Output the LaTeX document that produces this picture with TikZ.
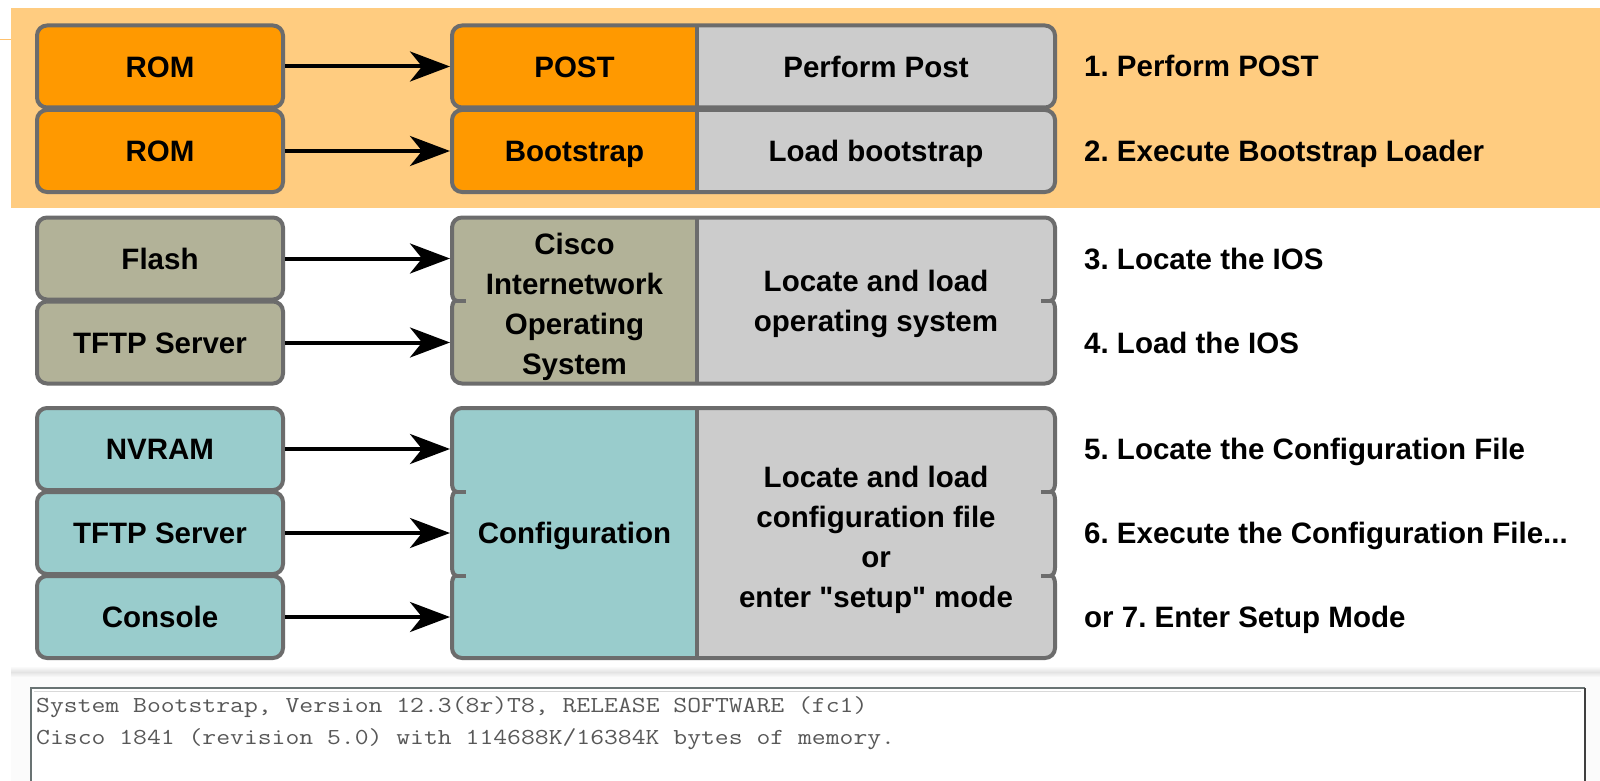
\documentclass[tikz,border=0pt]{standalone}
\usepackage{fontspec}
\setmainfont{Liberation Sans}[Ligatures=TeXOff]
\usetikzlibrary{arrows.meta}
\definecolor{band}{RGB}{255,204,128}
\definecolor{corange}{RGB}{255,153,0}
\definecolor{colive}{RGB}{178,178,152}
\definecolor{cteal}{RGB}{153,204,204}
\definecolor{cgray}{RGB}{204,204,204}
\definecolor{bord}{RGB}{108,108,108}
\definecolor{monotext}{RGB}{88,88,88}
\definecolor{tbord}{RGB}{105,115,115}
\newcommand\lbfont{\fontsize{29.5}{40}\selectfont\bfseries}
\frenchspacing
\begin{document}
\begin{tikzpicture}[x=1pt,y=-1pt,
  lbox/.style={draw=bord, line width=4pt, rounded corners=10pt, minimum width=246pt,
    minimum height=82pt, inner sep=0pt, font=\lbfont, text height=21.1pt, text depth=0pt},
  intext/.style={inner sep=0pt, font=\lbfont, text height=21.1pt, text depth=0pt},
  multitext/.style={inner sep=0pt, anchor=base},
  steplabel/.style={anchor=base west, inner sep=0pt, font=\lbfont},
  bline/.style={draw=bord, line width=4pt},
  con/.style={line width=4pt, -{Stealth[length=40pt,width=30pt,inset=12pt]}}]
\useasboundingbox (0,0) rectangle (1600,781);
\fill[white] (0,0) rectangle (1600,781);
% orange band
\fill[band] (11,8) rectangle (1600,208);
\draw[band!85!orange, line width=1pt] (0,40) -- (11,40);

% ---------- right boxes, group 1 ----------
\begin{scope}
  \clip[rounded corners=10pt] (452,25.5) rectangle (1055,107.5);
  \fill[cgray] (452,25.5) rectangle (1055,107.5);
  \fill[corange] (452,25.5) rectangle (697,107.5);
\end{scope}
\draw[bline] (697,25.5) -- (697,107.5);
\draw[bline, rounded corners=10pt] (452,25.5) rectangle (1055,107.5);
\begin{scope}
  \clip[rounded corners=10pt] (452,110) rectangle (1055,192);
  \fill[cgray] (452,110) rectangle (1055,192);
  \fill[corange] (452,110) rectangle (697,192);
\end{scope}
\draw[bline] (697,110) -- (697,192);
\draw[bline, rounded corners=10pt] (452,110) rectangle (1055,192);

% ---------- right box, group 2 ----------
\def\outlineB{(452,227.5) .. controls (452,222) and (456.5,217.5) .. (462,217.5)
 -- (1045,217.5) .. controls (1050.5,217.5) and (1055,222) .. (1055,227.5)
 -- (1055,292.5) .. controls (1055,297) and (1053,300.5) .. (1051,300.5)
 .. controls (1053,300.5) and (1055,304) .. (1055,308.5)
 -- (1055,373.5) .. controls (1055,379) and (1050.5,383.5) .. (1045,383.5)
 -- (462,383.5) .. controls (456.5,383.5) and (452,379) .. (452,373.5)
 -- (452,308.5) .. controls (452,304) and (454,300.5) .. (456,300.5)
 .. controls (454,300.5) and (452,297) .. (452,292.5) -- cycle}
\begin{scope}
  \clip \outlineB;
  \fill[cgray] (440,210) rectangle (1070,390);
  \fill[colive] (440,210) rectangle (697,390);
\end{scope}
\draw[bline] (697,217.5) -- (697,383.5);
\draw[bline, line join=miter] \outlineB;
\draw[bline] (456,300.5) -- (466,300.5);
\draw[bline] (1051,300.5) -- (1041,300.5);

% ---------- right box, group 3 ----------
\def\outlineC{(452,418) .. controls (452,412.5) and (456.5,408) .. (462,408)
 -- (1045,408) .. controls (1050.5,408) and (1055,412.5) .. (1055,418)
 -- (1055,483.5) .. controls (1055,488) and (1053,491.5) .. (1051,491.5)
 .. controls (1053,491.5) and (1055,495) .. (1055,499.5)
 -- (1055,567.5) .. controls (1055,572) and (1053,575.5) .. (1051,575.5)
 .. controls (1053,575.5) and (1055,579) .. (1055,583.5)
 -- (1055,648) .. controls (1055,653.5) and (1050.5,658) .. (1045,658)
 -- (462,658) .. controls (456.5,658) and (452,653.5) .. (452,648)
 -- (452,583.5) .. controls (452,579) and (454,575.5) .. (456,575.5)
 .. controls (454,575.5) and (452,572) .. (452,567.5)
 -- (452,499.5) .. controls (452,495) and (454,491.5) .. (456,491.5)
 .. controls (454,491.5) and (452,488) .. (452,483.5) -- cycle}
\begin{scope}
  \clip \outlineC;
  \fill[cgray] (440,400) rectangle (1070,665);
  \fill[cteal] (440,400) rectangle (697,665);
\end{scope}
\draw[bline] (697,408) -- (697,658);
\draw[bline, line join=miter] \outlineC;
\draw[bline] (456,491.5) -- (466,491.5);
\draw[bline] (1051,491.5) -- (1041,491.5);
\draw[bline] (456,575.5) -- (466,575.5);
\draw[bline] (1051,575.5) -- (1041,575.5);

% ---------- texts inside right boxes ----------
\node[intext] (post) at (574.5,66.5) {POST};
\node[intext] (pp) at (876,66.5) {Perform Post};
\node[intext] (boot) at (574.5,151) {Bootstrap};
\node[intext] (lb) at (876,151) {Load bootstrap};
\node[multitext] (ios) at (574.5,254.5) {\lbfont\begin{tabular}[t]{@{}c@{}}Cisco\\Internetwork\\Operating\\System\end{tabular}};
\node[multitext] (llos) at (876,291.5) {\lbfont\begin{tabular}[t]{@{}c@{}}Locate and load\\operating system\end{tabular}};
\node[intext] (conf) at (574.5,533) {Configuration};
\node[multitext] (llcf) at (876,487) {\lbfont\begin{tabular}[t]{@{}c@{}}Locate and load\\configuration file\\or\\enter "setup" mode\end{tabular}};

% ---------- left boxes ----------
\node[lbox, fill=corange] (rom1) at (160,66.5) {ROM};
\node[lbox, fill=corange] (rom2) at (160,151) {ROM};
\node[lbox, fill=colive] (flash) at (160,258.5) {Flash};
\node[lbox, fill=colive] (tftp1) at (160,342.5) {TFTP Server};
\node[lbox, fill=cteal] (nvram) at (160,449) {NVRAM};
\node[lbox, fill=cteal] (tftp2) at (160,533) {TFTP Server};
\node[lbox, fill=cteal] (console) at (160,617) {Console};

% ---------- arrow targets ----------
\coordinate (t1) at (450,66.5);
\coordinate (t2) at (450,151);
\coordinate (t3) at (450,258.5);
\coordinate (t4) at (450,342.5);
\coordinate (t5) at (450,449);
\coordinate (t6) at (450,533);
\coordinate (t7) at (450,617);
\draw[con] (rom1.east) -- (t1);
\draw[con] (rom2.east) -- (t2);
\draw[con] (flash.east) -- (t3);
\draw[con] (tftp1.east) -- (t4);
\draw[con] (nvram.east) -- (t5);
\draw[con] (tftp2.east) -- (t6);
\draw[con] (console.east) -- (t7);

% ---------- step labels ----------
\node[steplabel] (s1) at (1084,77) {1. Perform POST};
\node[steplabel] (s2) at (1084,161.5) {2. Execute Bootstrap Loader};
\node[steplabel] (s3) at (1084,269) {3. Locate the IOS};
\node[steplabel] (s4) at (1084,353) {4. Load the IOS};
\node[steplabel] (s5) at (1084,459.5) {5. Locate the Configuration File};
\node[steplabel] (s6) at (1084,543.5) {6. Execute the Configuration File...};
\node[steplabel] (s7) at (1084,627.5) {or 7. Enter Setup Mode};

% ---------- console output area ----------
\fill[gray!3] (11,674) rectangle (1600,781);
\shade[top color=white, bottom color=gray!22] (11,666) rectangle (1600,672);
\shade[top color=gray!22, bottom color=gray!3] (11,672) rectangle (1600,677);
\fill[white] (31,688) rectangle (1585,781);
\draw[tbord, line width=2.5pt] (31,781) -- (31,688) -- (1585,688);
\draw[black!75, line width=2.5pt] (1585,688) -- (1585,781);
\draw[gray!30, line width=1pt] (34,691) -- (1581,691);
\node[anchor=base west, inner sep=0pt, yscale=0.85, text=monotext,
  font=\fontsize{26.9}{30}\selectfont\ttfamily] (line1) at (36,712)
  {System Bootstrap, Version 12.3(8r)T8, RELEASE SOFTWARE (fc1)};
\node[anchor=base west, inner sep=0pt, yscale=0.85, text=monotext,
  font=\fontsize{26.9}{30}\selectfont\ttfamily] (line2) at (36,744)
  {Cisco 1841 (revision 5.0) with 114688K/16384K bytes of memory.};
\end{tikzpicture}
\end{document}
